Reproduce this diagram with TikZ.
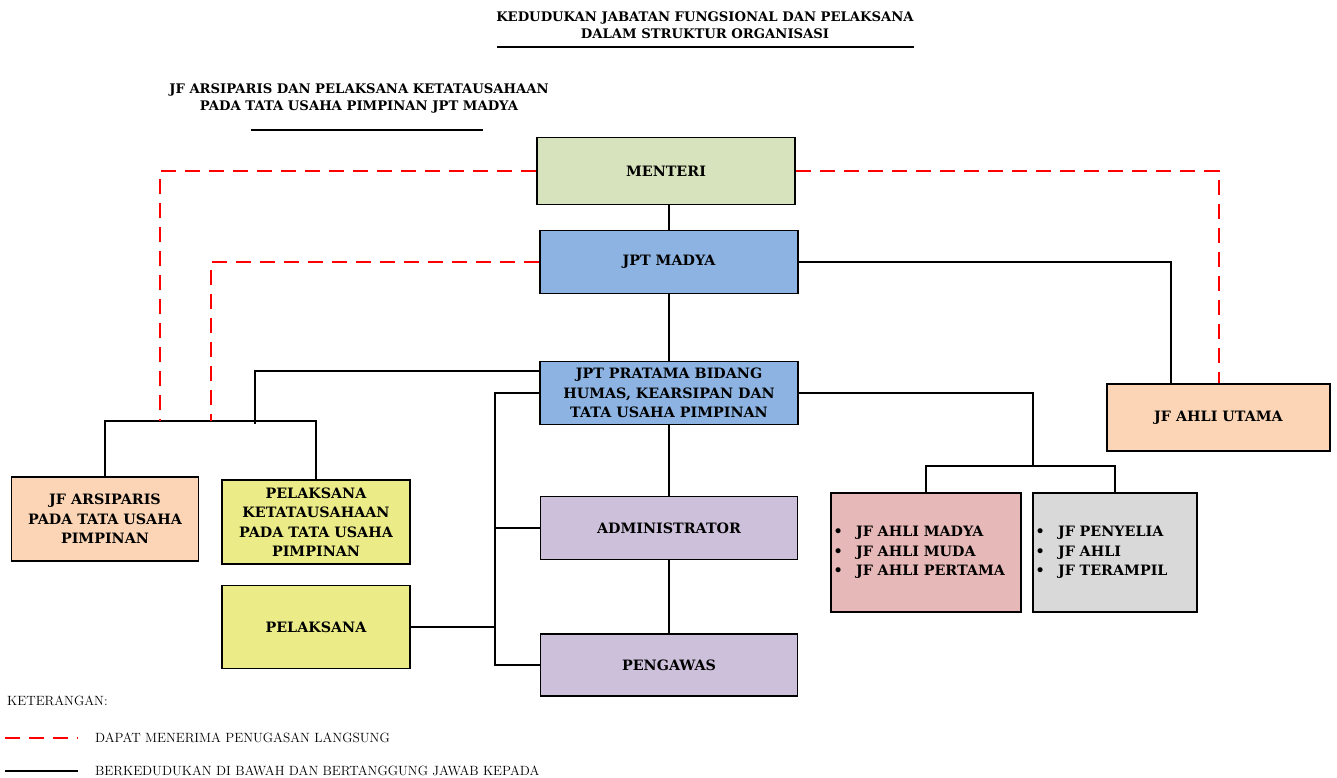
\documentclass[tikz,border=0pt]{standalone}
\usepackage{fontspec}
\newfontfamily\bookfont{DejaVu Serif}

\definecolor{menteriC}{HTML}{D7E3BC}
\definecolor{jptC}{HTML}{8DB3E2}
\definecolor{adminC}{HTML}{CCC0DA}
\definecolor{peachC}{HTML}{FBD5B5}
\definecolor{yellowC}{HTML}{EBEB87}
\definecolor{pinkC}{HTML}{E6B8B7}
\definecolor{greyC}{HTML}{D9D9D9}

\newcommand{\blt}{\makebox[22.5pt][l]{\textbullet}}

\begin{document}
\begin{tikzpicture}[
    x=1pt, y=-1pt,
    unit/.style={draw, rectangle, line width=1.8pt, align=center, inner sep=2pt,
        font=\bookfont\bfseries\fontsize{14.3}{19.5}\selectfont},
    listunit/.style={unit, align=left, inner xsep=2.5pt},
    link/.style={line width=2pt},
    assign/.style={draw=red, line width=2pt, dash pattern=on 15pt off 9pt},
    heading/.style={align=center, font=\bookfont\bfseries\fontsize{13.2}{17}\selectfont},
    legend/.style={anchor=west, inner sep=0pt, font=\fontsize{13.4}{15}\selectfont}
]
\useasboundingbox (0,0) rectangle (1337,778);

% Headings
\node[heading] (title) at (705,25.5) {KEDUDUKAN JABATAN FUNGSIONAL DAN PELAKSANA\\DALAM STRUKTUR ORGANISASI};
\draw[line width=1.6pt] (497,47) -- (914,47);
\node[heading] (subtitle) at (359,98.5) {JF ARSIPARIS DAN PELAKSANA KETATAUSAHAAN\\PADA TATA USAHA PIMPINAN JPT MADYA};
\draw[line width=1.6pt] (251,130) -- (483,130);

% Units
\node[unit, fill=menteriC, minimum width=258pt, minimum height=67pt] (menteri) at (666,171) {MENTERI};
\node[unit, fill=jptC, minimum width=258pt, minimum height=63pt] (madya) at (669,262) {JPT MADYA};
\node[unit, fill=jptC, minimum width=258pt, minimum height=63pt] (pratama) at (669,393) {JPT PRATAMA BIDANG\\HUMAS, KEARSIPAN DAN\\TATA USAHA PIMPINAN};
\node[unit, fill=adminC, minimum width=257pt, minimum height=63pt] (admin) at (669,528) {ADMINISTRATOR};
\node[unit, fill=adminC, minimum width=257pt, minimum height=62pt] (pengawas) at (669,665) {PENGAWAS};
\node[unit, fill=peachC, minimum width=187pt, minimum height=84pt] (arsiparis) at (105,519) {JF ARSIPARIS\\PADA TATA USAHA\\PIMPINAN};
\node[unit, fill=yellowC, minimum width=188pt, minimum height=84pt] (ketu) at (316,522) {PELAKSANA\\KETATAUSAHAAN\\PADA TATA USAHA\\PIMPINAN};
\node[unit, fill=yellowC, minimum width=188pt, minimum height=83pt] (pelaksana) at (316,627) {PELAKSANA};
\node[unit, fill=peachC, minimum width=223pt, minimum height=67pt] (utama) at (1218.5,417.5) {JF AHLI UTAMA};
\node[listunit, fill=pinkC, text width=185pt, minimum height=119pt] (ahli) at (926,552.5) {\blt JF AHLI MADYA\\\blt JF AHLI MUDA\\\blt JF AHLI PERTAMA};
\node[listunit, fill=greyC, text width=159pt, minimum height=119pt] (teknis) at (1115,552.5) {\blt JF PENYELIA\\\blt JF AHLI\\\blt JF TERAMPIL};

% Junction points
\coordinate (tuBar) at (210,421);
\coordinate (tuDrop) at (255,424);
\coordinate (spine) at (495,528);
\coordinate (fungBar) at (1033,466);
\coordinate (arsipA) at (160,421);
\coordinate (arsipB) at (211,421);

% Lines of command
\draw[link] (menteri.south -| madya.north) -- (madya.north);
\draw[link] (madya) -- (pratama);
\draw[link] (pratama.south) -- (pratama.south |- admin.north);
\draw[link] (admin) -- (pengawas);
\draw[link] (madya.east) -| ([xshift=-47.5pt]utama.north);
\draw[link] ([yshift=22pt]pratama.west) -| (tuDrop);
\draw[link] (arsiparis.north) |- (tuBar) -| (ketu.north);
\draw[link] (pratama.west) -| (spine |- pengawas.west) -- (pengawas.west);
\draw[link] (admin.west) -- (admin.west -| spine);
\draw[link] (pelaksana.east) -- (pelaksana.east -| spine);
\draw[link] (pratama.east) -| (fungBar);
\draw[link] (ahli.north) |- (fungBar) -| (teknis.north);

% Direct assignment
\draw[assign] (menteri.west) -| (arsipA);
\draw[assign] (madya.west) -| (arsipB);
\draw[assign] (menteri.east) -| (utama.north);

% Legend
\node[legend] (ket) at (7,701) {KETERANGAN:};
\node[legend] (lgAssign) at (95,738) {DAPAT MENERIMA PENUGASAN LANGSUNG};
\node[legend] (lgLink) at (95,771) {BERKEDUDUKAN DI BAWAH DAN BERTANGGUNG JAWAB KEPADA};
\draw[assign] (5,738) -- (78,738);
\draw[link] (5,771) -- (78,771);

\end{tikzpicture}
\end{document}
